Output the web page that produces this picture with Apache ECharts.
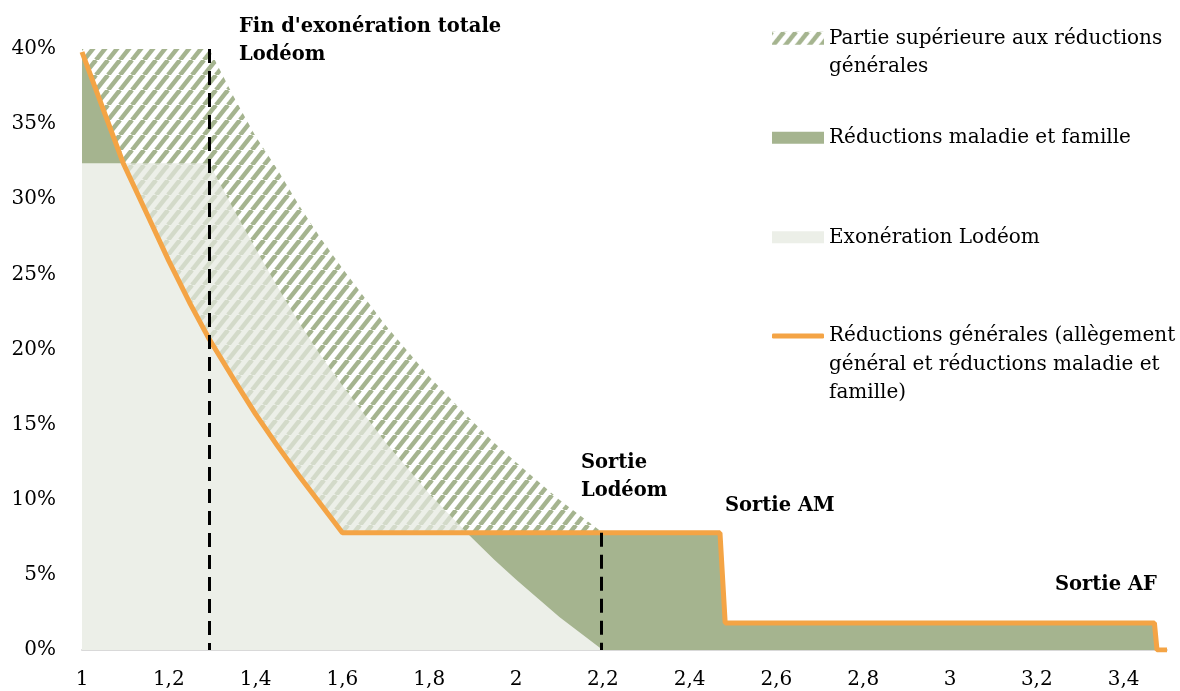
<!DOCTYPE html>
<html lang="fr">
<head>
<meta charset="utf-8">
<title>Réductions générales et exonération Lodéom</title>
<script src="https://cdn.jsdelivr.net/npm/echarts@6/dist/echarts.min.js"></script>
<style>
  html, body { margin: 0; padding: 0; background: #fff; }
  #chart { width: 1180px; height: 691px; }
</style>
</head>
<body>
<div id="chart"></div>
<script>
// salaire en multiples du SMIC
const xPoints = [1, 1.05, 1.095, 1.15, 1.2, 1.25, 1.293, 1.35, 1.4, 1.45, 1.5, 1.55, 1.6,
  1.7, 1.8, 1.89, 1.95, 2.0, 2.1, 2.2, 2.3, 2.4, 2.47, 2.482, 2.6, 2.8, 3.0, 3.2, 3.4,
  3.471, 3.477, 3.5];

// réductions générales (courbe orange), en %
const reductionsGenerales = [39.8, 35.9, 32.4, 29.0, 25.9, 23.0, 20.7, 18.0, 15.7, 13.6, 11.6, 9.7, 7.8,
  7.8, 7.8, 7.8, 7.8, 7.8, 7.8, 7.8, 7.8, 7.8, 7.8, 1.8, 1.8, 1.8, 1.8, 1.8, 1.8,
  1.8, 0, 0];

// exonération Lodéom, en %
const exonerationLodeom = [32.4, 32.4, 32.4, 32.4, 32.4, 32.4, 32.4, 29.3, 26.7, 24.2, 21.8, 19.6, 17.6,
  13.8, 10.4, 7.7, 6.0, 4.7, 2.2, 0, 0, 0, 0, 0, 0, 0, 0, 0, 0,
  0, 0, 0];

// haut de la partie hachurée (Lodéom + réductions maladie et famille), en %
const plafondHachure = [40, 40, 40, 40, 40, 40, 40, 36.8, 34.2, 32.0, 29.6, 27.4, 25.4,
  21.6, 18.2, 15.5, 13.8, 12.5, 10.0, 7.8, null, null, null, null, null, null, null, null, null,
  null, null, null];

const yTicks = [0, 5, 10, 15, 20, 25, 30, 35, 40];

// seuils marqués par les lignes pointillées : [x, haut, bas]
const seuils = [[1.293, 40, 0], [2.197, 7.8, 0]];

const seriesNames = {
  hachure: 'Partie supérieure aux réductions générales',
  maladie: 'Réductions maladie et famille',
  lodeom: 'Exonération Lodéom',
  generales: 'Réductions générales (allègement général et réductions maladie et famille)'
};
const legendLines = {
  hachure: ['Partie supérieure aux réductions', 'générales'],
  maladie: ['Réductions maladie et famille'],
  lodeom: ['Exonération Lodéom'],
  generales: ['Réductions générales (allègement', 'général et réductions maladie et', 'famille)']
};

const annotations = [
  { text: "Fin d'exonération totale\nLodéom", x: 239, y: 13 },
  { text: 'Sortie\nLodéom', x: 581, y: 449 },
  { text: 'Sortie AM', x: 725, y: 492 },
  { text: 'Sortie AF', x: 1055, y: 571 }
];

const GREEN = '#A5B48F';
const LIGHT = '#ECEFE8';
const LIGHT_STRIPE = '#D3DAC9';
const ORANGE = '#F4A445';
const FONT = 'DejaVu Serif';
const LH = 28.5;

function stripes(bg, fg) {
  const w = 12, h = 15;
  const c = document.createElement('canvas');
  c.width = w; c.height = h;
  const ctx = c.getContext('2d');
  if (bg) { ctx.fillStyle = bg; ctx.fillRect(0, 0, w, h); }
  ctx.strokeStyle = fg;
  ctx.lineWidth = 4.5;
  for (const o of [-w, 0, w]) {
    ctx.beginPath();
    ctx.moveTo(o, h);
    ctx.lineTo(o + w, 0);
    ctx.stroke();
  }
  return { image: c, repeat: 'repeat' };
}

const darkHatch = stripes(null, GREEN);
const lightHatch = stripes(LIGHT, LIGHT_STRIPE);

const pairs = arr => xPoints.map((x, i) => [x, arr[i]]);
const lodeomSolid = xPoints.map((x, i) => Math.min(reductionsGenerales[i], exonerationLodeom[i]));

const fmtX = v => (v > 3.45 ? '' : String(+v.toFixed(1)).replace('.', ','));

// the legend icon sits on the middle of the text block: empty lines in front
// of the label put the first real line on the icon
function legendFor(key, iconCenter, iconH, icon, color) {
  const lines = legendLines[key];
  const n = lines.length;
  const pad = new Array(n - 1).fill('');
  return {
    left: 772,
    top: iconCenter - (2 * n - 1) * LH / 2,
    padding: 0,
    itemWidth: 52,
    itemHeight: iconH,
    selectedMode: false,
    formatter: () => pad.concat(lines).join('\n'),
    textStyle: { fontFamily: FONT, fontSize: 20, lineHeight: LH, color: '#000' },
    data: [{ name: seriesNames[key], icon: icon, itemStyle: { color: color, borderWidth: 0 } }]
  };
}

const chart = echarts.init(document.getElementById('chart'), null, { renderer: 'canvas' });

chart.setOption({
  animation: false,
  textStyle: { fontFamily: FONT },
  grid: { left: 82, right: 13, top: 49, bottom: 41 },
  legend: [
    legendFor('hachure', 38.3, 13, 'rect', darkHatch),
    legendFor('maladie', 137.7, 12, 'rect', GREEN),
    legendFor('lodeom', 237.3, 12, 'rect', LIGHT),
    legendFor('generales', 336, 5, 'roundRect', ORANGE)
  ],
  xAxis: {
    type: 'value',
    min: 1, max: 3.5, interval: 0.2,
    axisLine: { show: true, lineStyle: { color: '#D9D9D9', width: 2 } },
    axisTick: { show: false },
    splitLine: { show: false },
    axisLabel: { formatter: fmtX, fontSize: 20, color: '#000', margin: 20, showMaxLabel: false }
  },
  yAxis: {
    type: 'value',
    min: yTicks[0], max: yTicks[yTicks.length - 1], interval: yTicks[1] - yTicks[0],
    axisLine: { show: false },
    axisTick: { show: false },
    splitLine: { show: false },
    axisLabel: { formatter: '{value}%', fontSize: 20, color: '#000', margin: 26 }
  },
  series: [
    {
      name: seriesNames.hachure,
      type: 'line',
      data: pairs(plafondHachure),
      symbol: 'none',
      lineStyle: { width: 0 },
      areaStyle: { color: darkHatch, opacity: 1 }
    },
    {
      name: 'hachure-lodeom',
      type: 'line',
      data: pairs(exonerationLodeom),
      symbol: 'none',
      lineStyle: { width: 0 },
      areaStyle: { color: lightHatch, opacity: 1 }
    },
    {
      name: seriesNames.maladie,
      type: 'line',
      data: pairs(reductionsGenerales),
      symbol: 'none',
      lineStyle: { width: 0 },
      areaStyle: { color: GREEN, opacity: 1 }
    },
    {
      name: seriesNames.lodeom,
      type: 'line',
      data: pairs(lodeomSolid),
      symbol: 'none',
      lineStyle: { width: 0 },
      areaStyle: { color: LIGHT, opacity: 1 }
    },
    {
      name: seriesNames.generales,
      type: 'line',
      data: pairs(reductionsGenerales),
      symbol: 'none',
      lineStyle: { width: 5, color: ORANGE },
      itemStyle: { color: ORANGE },
      markLine: {
        silent: true,
        symbol: 'none',
        label: { show: false },
        lineStyle: { color: '#000', width: 3, type: [14, 8] },
        data: seuils.map(s => [{ coord: [s[0], s[1]] }, { coord: [s[0], s[2]] }])
      }
    }
  ],
  graphic: annotations.map(a => ({
    type: 'text',
    left: a.x,
    top: a.y,
    z: 100,
    style: {
      text: a.text,
      fill: '#000',
      fontFamily: FONT,
      fontWeight: 'bold',
      fontSize: 19.5,
      lineHeight: 28
    }
  }))
});
</script>
</body>
</html>
